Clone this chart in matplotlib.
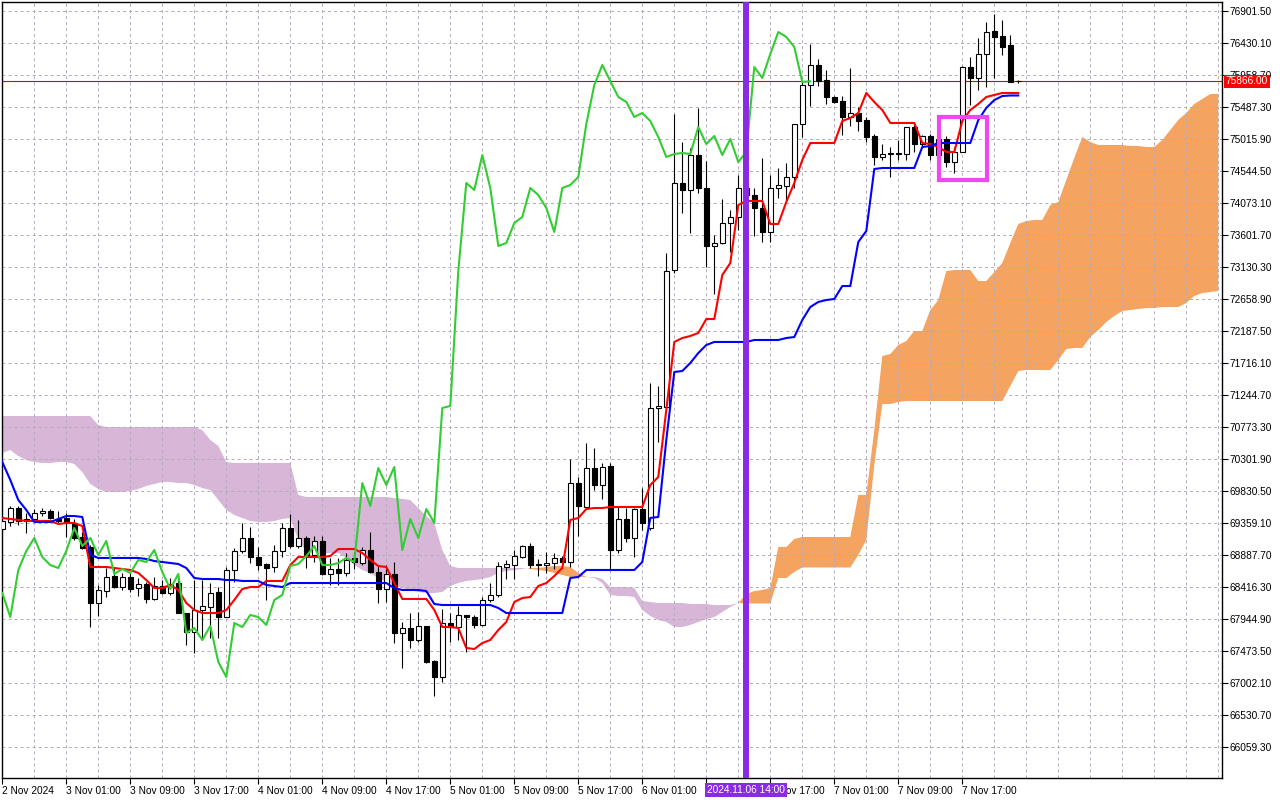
import numpy as np
import matplotlib
matplotlib.use("Agg")
import matplotlib.pyplot as plt
from matplotlib import transforms
from matplotlib.patches import Rectangle

plt.rcParams['font.family'] = ['Liberation Sans', 'DejaVu Sans']

# hourly BTC candles, bar 0 = 2 Nov 2024 17:00
opens = [
    69271, 69374, 69580, 69418, 69418, 69506, 69536, 69418, 69433, 69359,
    69153, 69006, 68181, 68357, 68578, 68416, 68564, 68402, 68461, 68240,
    68431, 68328, 68475, 68033, 67753, 68078, 68122, 68343, 67974, 68667,
    68947, 69138, 68858, 68755, 68711, 68947, 69286, 69020, 69138, 68888,
    69094, 68608, 68682, 68623, 68844, 68770, 68961, 68637, 68387, 68608,
    67739, 67812, 67636, 67842, 67326, 67091, 67886, 67827, 68004, 67974,
    67857, 68225, 68299, 68711, 68740, 68858, 69020, 68755, 68740, 68770,
    68844, 68785, 69948, 69595, 70169, 69919, 70199, 68961, 69418, 69138,
    69565, 69286, 71053, 71068, 73086, 74368, 74265, 74780, 74294, 73440,
    73484, 73779, 73867, 74294, 74191, 74000, 73646, 74294, 74323, 74456,
    75237, 75811, 76106, 75885, 75635, 75576, 75340, 75399, 75296, 75060,
    74751, 74795, 74810, 74795, 75193, 74942, 75060, 74780, 75016, 74677,
    74825, 76077, 75915, 76268, 76607, 76533, 76401, 75870,
]
highs = [
    69477, 69610, 69610, 69506, 69565, 69580, 69565, 69536, 69506, 69418,
    69227, 69035, 68446, 68696, 68696, 68623, 68623, 68549, 68490, 68564,
    68519, 68549, 68564, 68033, 68519, 68519, 68475, 68416, 68711, 68991,
    69359, 69300, 69006, 68770, 69035, 69359, 69492, 69403, 69168, 69168,
    69168, 68844, 68844, 68917, 68932, 69006, 69227, 68740, 68740, 68785,
    67901, 68033, 68048, 67842, 67341, 68092, 68033, 68136, 68004, 68004,
    68269, 68475, 68785, 68814, 68961, 69035, 69065, 68829, 68932, 68917,
    68873, 70302, 70037, 70538, 70464, 70243, 70243, 69595, 69580, 69580,
    69875, 71422, 71377, 73337, 75384, 74972, 74885, 75473, 74692, 73602,
    74132, 73970, 74486, 74441, 74294, 74736, 74486, 74589, 74662, 75237,
    75870, 76415, 76194, 76032, 75649, 75649, 76062, 75487, 75340, 75090,
    74942, 74898, 75001, 75193, 75252, 75075, 75090, 75060, 75060, 74898,
    76091, 76224, 76504, 76740, 76857, 76769, 76548, 75885,
]
lows = [
    69227, 69315, 69329, 69212, 69374, 69462, 69418, 69344, 69153, 69109,
    68976, 67827, 67989, 68269, 68402, 68372, 68343, 68284, 68181, 68225,
    68313, 68299, 68033, 67562, 67444, 67636, 67665, 67665, 67974, 68490,
    68917, 68770, 68667, 68225, 68637, 68858, 68991, 68991, 68696, 68785,
    68593, 68446, 68446, 68578, 68682, 68740, 68623, 68181, 68195, 67591,
    67223, 67518, 67606, 67297, 66811, 67017, 67606, 67636, 67459, 67812,
    67842, 68195, 68269, 68534, 68534, 68844, 68696, 68578, 68623, 68682,
    68770, 68711, 69168, 69580, 69845, 69713, 68667, 68917, 69079, 68858,
    69256, 69256, 70552, 71068, 73042, 73926, 73631, 74220, 73130, 72733,
    73469, 73351, 73675, 73911, 73587, 73499, 73499, 74147, 74117, 74294,
    75045, 75502, 75797, 75532, 75546, 75075, 75207, 75134, 74972, 74633,
    74707, 74456, 74707, 74707, 74825, 74898, 74707, 74707, 74603, 74515,
    74825, 75517, 75738, 75782, 75915, 76253, 75856, 75841,
]
closes = [
    69389, 69580, 69389, 69389, 69506, 69536, 69433, 69389, 69374, 69138,
    68991, 68181, 68372, 68564, 68416, 68564, 68387, 68461, 68240, 68431,
    68328, 68461, 68033, 67753, 68078, 68136, 68328, 67974, 68667, 68947,
    69138, 68858, 68740, 68696, 68947, 69286, 69020, 69138, 68888, 69094,
    68608, 68682, 68623, 68814, 68785, 68961, 68637, 68387, 68608, 67739,
    67812, 67636, 67842, 67312, 67091, 67886, 67827, 68004, 67974, 67857,
    68225, 68299, 68726, 68755, 68873, 69020, 68740, 68740, 68770, 68844,
    68785, 69948, 69610, 70169, 69919, 70184, 68961, 69418, 69138, 69565,
    69359, 71053, 71083, 73071, 74368, 74265, 74780, 74294, 73440, 73484,
    73779, 73867, 74294, 74191, 74000, 73646, 74294, 74338, 74456, 75237,
    75811, 76106, 75870, 75635, 75561, 75340, 75399, 75281, 75045, 74751,
    74795, 74810, 74795, 75193, 74942, 75060, 74780, 75016, 74677, 74825,
    76077, 75915, 76268, 76592, 76519, 76371, 75856, 75866,
]

# Ichimoku lines as drawn on the chart
tenkan = [
    69433, 69418, 69403, 69389, 69389, 69389, 69389, 69344, 69359, 69359,
    69315, 68711, 68711, 68711, 68696, 68682, 68667, 68623, 68519, 68402,
    68402, 68446, 68372, 68181, 68078, 68033, 68033, 68033, 68078, 68225,
    68387, 68416, 68416, 68505, 68505, 68505, 68740, 68858, 68858, 68858,
    68858, 68873, 68976, 68976, 68976, 68917, 68814, 68726, 68711, 68475,
    68240, 68240, 68240, 68240, 68078, 67827, 67827, 67812, 67518, 67503,
    67591, 67636, 67783, 67901, 68195, 68254, 68269, 68431, 68475, 68578,
    68696, 69403, 69433, 69565, 69580, 69580, 69595, 69595, 69595, 69595,
    69595, 69919, 70037, 71024, 72026, 72084, 72114, 72158, 72364, 72364,
    73013, 73189, 74044, 74103, 74103, 74103, 73764, 73764, 74088, 74368,
    74707, 74957, 74957, 74957, 74957, 75281, 75325, 75399, 75694, 75561,
    75443, 75252, 75252, 75252, 75252, 74957, 74942, 74898, 74825, 74825,
    75281, 75443, 75532, 75635, 75664, 75694, 75694, 75694,
]
kijun = [
    70258, 69993, 69698, 69551, 69374, 69374, 69374, 69418, 69462, 69462,
    69448, 68888, 68844, 68844, 68844, 68844, 68844, 68844, 68829, 68799,
    68785, 68770, 68755, 68696, 68549, 68534, 68534, 68534, 68519, 68519,
    68505, 68505, 68505, 68446, 68431, 68416, 68475, 68475, 68475, 68475,
    68475, 68475, 68475, 68475, 68475, 68475, 68475, 68475, 68475, 68402,
    68372, 68372, 68372, 68357, 68166, 68151, 68151, 68151, 68151, 68151,
    68151, 68151, 68107, 68033, 68033, 68033, 68033, 68033, 68033, 68033,
    68033, 68549, 68564, 68667, 68667, 68667, 68667, 68667, 68667, 68667,
    68785, 69433, 69448, 70582, 71584, 71598, 71716, 71863, 71981, 72026,
    72026, 72026, 72026, 72026, 72055, 72055, 72055, 72055, 72084, 72099,
    72350, 72541, 72615, 72644, 72659, 72850, 72850, 73499, 73661, 74574,
    74589, 74589, 74589, 74589, 74589, 74898, 74913, 74957, 74957, 74957,
    74957, 74957, 75296, 75473, 75590, 75649, 75657, 75657,
]
span_a = [
    70390, 70435, 70346, 70287, 70258, 70243, 70243, 70258, 70258, 70228,
    70110, 69934, 69860, 69816, 69816, 69816, 69831, 69860, 69904, 69934,
    69963, 69963, 69948, 69948, 69919, 69875, 69845, 69698, 69551, 69477,
    69433, 69389, 69374, 69374, 69389, 69418, 69433, 69109, 68947, 68903,
    68903, 68917, 68917, 68844, 68740, 68667, 68623, 68549, 68490, 68446,
    68402, 68372, 68343, 68328, 68328, 68343, 68431, 68475, 68505, 68519,
    68534, 68564, 68623, 68652, 68667, 68682, 68696, 68696, 68711, 68726,
    68726, 68711, 68623, 68564, 68549, 68475, 68299, 68284, 68284, 68269,
    68078, 67989, 67930, 67901, 67827, 67827, 67857, 67901, 67945, 67974,
    68048, 68122, 68181, 68313, 68357, 68372, 68402, 69006, 69006, 69123,
    69153, 69153, 69153, 69153, 69153, 69153, 69153, 69772, 69772, 70729,
    71819, 71849, 71981, 72040, 72188, 72188, 72497, 72644, 73071, 73086,
    73086, 73086, 72924, 72924, 73057, 73189, 73484, 73764, 73808, 73823,
    73823, 74044, 74088, 74412, 74736, 75045, 74972, 74928, 74928, 74928,
    74928, 74913, 74913, 74898, 74898, 75001, 75149, 75296, 75399, 75532,
    75605, 75679, 75679,
]
span_b = [
    70935, 70935, 70935, 70935, 70935, 70935, 70935, 70935, 70935, 70935,
    70935, 70935, 70803, 70773, 70773, 70773, 70773, 70773, 70773, 70773,
    70773, 70773, 70773, 70773, 70773, 70729, 70582, 70493, 70258, 70243,
    70243, 70243, 70243, 70243, 70243, 70243, 70243, 69772, 69742, 69742,
    69742, 69742, 69742, 69742, 69742, 69742, 69742, 69742, 69742, 69727,
    69713, 69698, 69580, 69462, 69359, 68961, 68726, 68696, 68696, 68696,
    68696, 68696, 68696, 68696, 68696, 68696, 68682, 68667, 68652, 68623,
    68593, 68564, 68564, 68564, 68564, 68534, 68416, 68416, 68416, 68402,
    68210, 68195, 68181, 68181, 68181, 68181, 68166, 68166, 68166, 68151,
    68151, 68151, 68181, 68173, 68173, 68173, 68173, 68549, 68549, 68637,
    68704, 68704, 68704, 68704, 68704, 68704, 68704, 68888, 69109, 70214,
    71112, 71112, 71142, 71156, 71156, 71156, 71156, 71156, 71156, 71156,
    71156, 71156, 71156, 71156, 71156, 71156, 71377, 71598, 71613, 71613,
    71613, 71613, 71760, 71922, 71937, 71937, 72099, 72202, 72320, 72409,
    72482, 72497, 72512, 72526, 72526, 72541, 72541, 72541, 72600, 72703,
    72747, 72762, 72777,
]

price_ticks = [
    66059.30, 66530.70, 67002.10, 67473.50, 67944.90, 68416.30, 68887.70,
    69359.10, 69830.50, 70301.90, 70773.30, 71244.70, 71716.10, 72187.50,
    72658.90, 73130.30, 73601.70, 74073.10, 74544.50, 75015.90, 75487.30,
    75958.70, 76430.10, 76901.50,
]
time_ticks = [0, 8, 16, 24, 32, 40, 48, 56, 64, 72, 80, 88, 96, 104, 112, 120]
time_labels = ['2 Nov 2024', '3 Nov 01:00', '3 Nov 09:00', '3 Nov 17:00',
               '4 Nov 01:00', '4 Nov 09:00', '4 Nov 17:00', '5 Nov 01:00',
               '5 Nov 09:00', '5 Nov 17:00', '6 Nov 01:00', '6 Nov 09:00',
               '6 Nov 17:00', '7 Nov 01:00', '7 Nov 09:00', '7 Nov 17:00']
current_price = 75866.00
marker_bar = 93
marker_label = '2024.11.06 14:00'
box_bars = [117.06, 123.1]
box_prices = [74418, 75347]
chikou_shift = 26

fig = plt.figure(figsize=(12.8, 8), dpi=100)
ax = fig.add_axes([1.7 / 1280, 22 / 800, 1219.8 / 1280, 776 / 800])
ax.set_xlim(-0.075, 152.4)
ax.set_ylim(65602.6, 77034.1)

# cloud
a = np.array(span_a, dtype=float)
b = np.array(span_b, dtype=float)
cx = np.arange(len(a))
ax.fill_between(cx, a, b, where=a >= b, interpolate=True, color='#F4A460', lw=0, zorder=0.5)
ax.fill_between(cx, a, b, where=a <= b, interpolate=True, color='#D8B6D8', lw=0, zorder=0.5)

# grid
grid_kw = dict(color='#B4AABB', lw=0.7, ls=(0, (3.1, 3.1)), zorder=1)
for p in price_ticks:
    ax.axhline(p, **grid_kw)
for gx in range(4, 153, 4):
    ax.axvline(gx, **grid_kw)

ax.axhline(current_price, color='#E00000', lw=0.8, zorder=2)

# candles
o = np.array(opens, dtype=float)
c = np.array(closes, dtype=float)
h = np.array(highs, dtype=float)
l = np.array(lows, dtype=float)
bars = np.arange(len(c))
up = c >= o
ax.vlines(bars, l, h, color='black', lw=0.8, zorder=3)
body_lo = np.minimum(o, c)
body_h = np.abs(c - o)
ax.bar(bars[up], body_h[up], bottom=body_lo[up], width=0.62, color='white',
       edgecolor='black', lw=0.8, zorder=4)
ax.bar(bars[~up], body_h[~up], bottom=body_lo[~up], width=0.62, color='black',
       edgecolor='black', lw=0.8, zorder=4)

# ichimoku lines
ax.plot(bars, tenkan, color='#FF0000', lw=1.5, zorder=5)
ax.plot(bars, kijun, color='#0000FF', lw=1.5, zorder=5)
ax.plot(bars[:len(c) - chikou_shift], c[chikou_shift:], color='#32CD32', lw=1.5, zorder=5)

# marker line and box
ax.axvline(marker_bar, color='#8A2BE2', lw=4.3, zorder=6)
ax.add_patch(Rectangle((box_bars[0], box_prices[0]), box_bars[1] - box_bars[0],
                       box_prices[1] - box_prices[0], fill=False,
                       ec='#F048F0', lw=3, zorder=7))

# axes
for s in ax.spines.values():
    s.set_color('black')
    s.set_linewidth(1)
ax.yaxis.tick_right()
ax.set_yticks(price_ticks, ['%.2f' % p for p in price_ticks])
ax.tick_params(axis='y', direction='out', length=4, width=0.8, pad=2,
               labelsize=7.3, colors='black')
ax.set_xticks(time_ticks, time_labels)
ax.tick_params(axis='x', direction='out', length=4, width=0.8, pad=2,
               labelsize=7.3, colors='black')
for lab in ax.get_xticklabels():
    lab.set_ha('left')

tr_y = transforms.blended_transform_factory(ax.transAxes, ax.transData)
ax.text(1.0035, current_price, '%.2f' % current_price, transform=tr_y,
        color='white', fontsize=7.3, ha='left', va='center', zorder=10,
        clip_on=False, bbox=dict(boxstyle='square,pad=0.15', fc='#FF0000', ec='none'))

tr_x = transforms.blended_transform_factory(ax.transData, ax.transAxes)
ax.text(marker_bar, -0.0085, marker_label, transform=tr_x, color='white',
        fontsize=7.3, ha='center', va='top', zorder=10, clip_on=False,
        bbox=dict(boxstyle='square,pad=0.2', fc='#8A2BE2', ec='none'))

fig.savefig('out.png', dpi=100)
